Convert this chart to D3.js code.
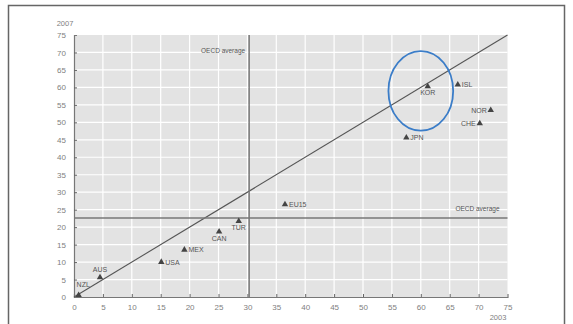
<!DOCTYPE html>
<html>
<head>
<meta charset="utf-8">
<script src="https://cdn.jsdelivr.net/npm/d3@7"></script>
<style>
  body { margin: 0; background: #fff; }
  text { font-family: "Liberation Sans", "DejaVu Sans", sans-serif; }
</style>
</head>
<body>
<div id="chart"></div>
<script>
// country codes and values (2003 on x, 2007 on y)
var countries = ["NZL", "AUS", "USA", "MEX", "CAN", "TUR", "EU15", "JPN", "KOR", "ISL", "NOR", "CHE"];
var val2003 = [0.8, 4.5, 15.1, 19.1, 25.1, 28.5, 36.5, 57.5, 61.2, 66.4, 72.1, 70.2];
var val2007 = [0.5, 5.6, 10.0, 13.5, 18.7, 21.7, 26.5, 45.6, 60.3, 60.8, 53.5, 49.7];
// where the label sits relative to the triangle
var labelPos = ["aboveright", "above", "right", "right", "below", "below", "right", "right", "below", "right", "left", "left"];
var ticks = [0, 5, 10, 15, 20, 25, 30, 35, 40, 45, 50, 55, 60, 65, 70, 75];
var avg2003 = 30.3, avg2007 = 22.6;
// highlighted area round KOR
var ring = {cx: 60.0, cy: 59.0, rx: 5.6, ry: 11.4};

var width = 573, height = 324;
// plot box (window.top is read-only, so own names)
var pL = 74, pR = 507.5, pT = 35, pB = 297;

var svg = d3.select("#chart").append("svg")
	.attr("width", width)
	.attr("height", height);

// outer frame
svg.append("rect")
	.attr("x", 8.5).attr("y", 5.5)
	.attr("width", 556).attr("height", 340)
	.attr("fill", "none")
	.attr("stroke", "#666")
	.attr("stroke-width", 1.5);

var x = d3.scaleLinear().domain([0, 75]).range([pL, pR]);
var y = d3.scaleLinear().domain([0, 75]).range([pB, pT]);

// plot background
svg.append("rect")
	.attr("x", pL).attr("y", pT)
	.attr("width", pR - pL).attr("height", pB - pT)
	.attr("fill", "#e3e3e3");

// white grid
svg.append("g").selectAll("line").data(ticks.slice(1, -1)).enter()
	.append("line")
	.attr("x1", function(d) { return x(d); })
	.attr("x2", function(d) { return x(d); })
	.attr("y1", pT).attr("y2", pB)
	.attr("stroke", "#fff").attr("stroke-width", 1.2);
svg.append("g").selectAll("line").data(ticks.slice(1, -1)).enter()
	.append("line")
	.attr("y1", function(d) { return y(d); })
	.attr("y2", function(d) { return y(d); })
	.attr("x1", pL).attr("x2", pR)
	.attr("stroke", "#fff").attr("stroke-width", 1.2);

// axes
var xAxis = d3.axisBottom(x).tickValues(ticks).tickSize(-3).tickPadding(7);
var yAxis = d3.axisLeft(y).tickValues(ticks).tickSize(-3).tickPadding(8);

var gx = svg.append("g").attr("transform", "translate(0," + pB + ")").call(xAxis);
var gy = svg.append("g").attr("transform", "translate(" + pL + ",0)").call(yAxis);
[gx, gy].forEach(function(g) {
	g.select(".domain").attr("stroke", "#777").attr("stroke-width", 1.2);
	g.selectAll(".tick line").attr("stroke", "#666");
	g.selectAll(".tick text").attr("fill", "#808080").style("font-size", "8px");
});
gx.selectAll(".tick").filter(function(d) { return d == 0 || d == 75; }).select("line").remove();
gy.selectAll(".tick").filter(function(d) { return d == 0 || d == 75; }).select("line").remove();

// axis titles
svg.append("text").attr("x", 65).attr("y", 26)
	.attr("text-anchor", "middle").attr("fill", "#808080")
	.style("font-size", "7.5px").text("2007");
svg.append("text").attr("x", 498).attr("y", 320)
	.attr("text-anchor", "middle").attr("fill", "#808080")
	.style("font-size", "7.5px").text("2003");

// 45 degree line
svg.append("line")
	.attr("x1", x(0)).attr("y1", y(0))
	.attr("x2", x(75)).attr("y2", y(75))
	.attr("stroke", "#555").attr("stroke-width", 1.1);

// OECD average lines
svg.append("line")
	.attr("x1", x(avg2003)).attr("x2", x(avg2003))
	.attr("y1", pT).attr("y2", pB)
	.attr("stroke", "#777").attr("stroke-width", 1.5);
svg.append("line")
	.attr("x1", pL).attr("x2", pR)
	.attr("y1", y(avg2007)).attr("y2", y(avg2007))
	.attr("stroke", "#777").attr("stroke-width", 1.5);

svg.append("text").attr("x", x(avg2003) - 4).attr("y", 53)
	.attr("text-anchor", "end").attr("fill", "#555")
	.style("font-size", "6.5px").text("OECD average");
svg.append("text").attr("x", pR - 8).attr("y", 211)
	.attr("text-anchor", "end").attr("fill", "#555")
	.style("font-size", "6.5px").text("OECD average");

// points
var tri = d3.symbol().type(d3.symbolTriangle).size(18);
var pts = svg.append("g").selectAll("g").data(countries).enter()
	.append("g")
	.attr("transform", function(d, i) {
		return "translate(" + x(val2003[i]) + "," + y(val2007[i]) + ")";
	});
pts.append("path").attr("d", tri).attr("fill", "#444");
pts.append("text")
	.attr("fill", "#555")
	.style("font-size", "7px")
	.attr("x", function(d, i) {
		if (labelPos[i] == "right") return 4;
		if (labelPos[i] == "left") return -4;
		if (labelPos[i] == "aboveright") return -2;
		return 0;
	})
	.attr("y", function(d, i) {
		if (labelPos[i] == "above") return -5;
		if (labelPos[i] == "aboveright") return -8;
		if (labelPos[i] == "below") return 9;
		return 2.5;
	})
	.attr("text-anchor", function(d, i) {
		if (labelPos[i] == "right" || labelPos[i] == "aboveright") return "start";
		if (labelPos[i] == "left") return "end";
		return "middle";
	})
	.text(function(d) { return d; });

// highlight ellipse
svg.append("ellipse")
	.attr("cx", x(ring.cx)).attr("cy", y(ring.cy))
	.attr("rx", x(ring.rx) - x(0)).attr("ry", y(0) - y(ring.ry))
	.attr("fill", "none")
	.attr("stroke", "#3b7dc8")
	.attr("stroke-width", 1.8);
</script>
</body>
</html>
